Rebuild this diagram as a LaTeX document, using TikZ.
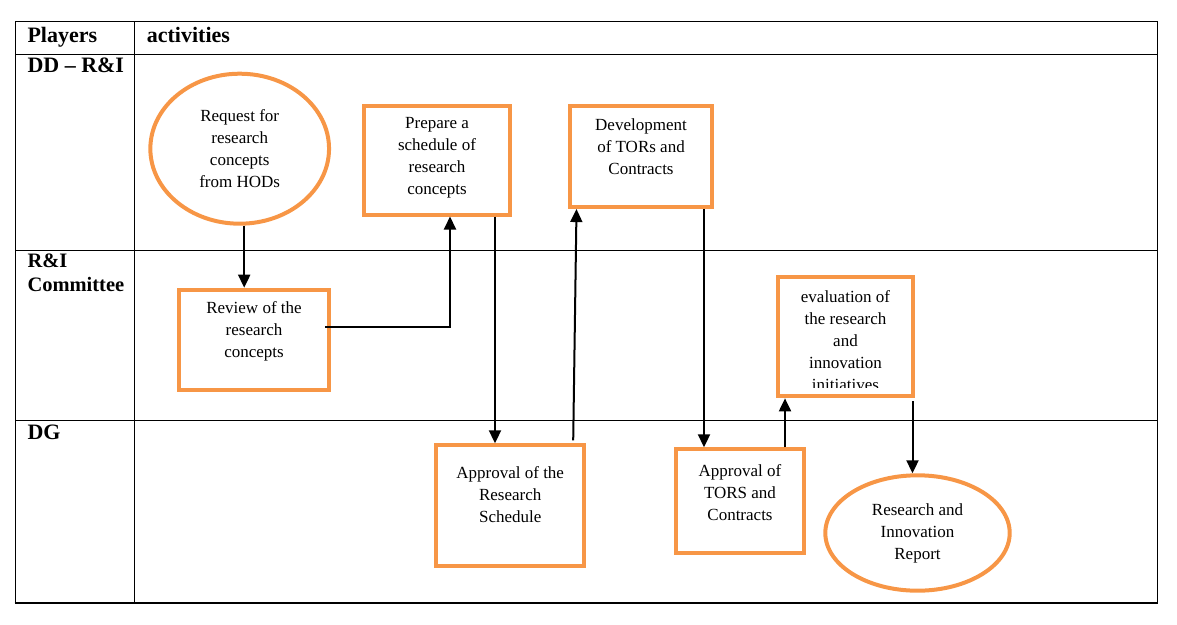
\documentclass[tikz,border=0pt]{standalone}
\usepackage{fontspec}
\setmainfont{Liberation Serif}
\usetikzlibrary{arrows.meta,shapes.geometric}
\definecolor{orng}{HTML}{F79646}
\newcommand{\bxt}[4]{\parbox[c][#2][t]{#1}{\vspace*{#3}\centering #4\par}}
\begin{document}
\begin{tikzpicture}[x=1pt,y=-1pt,
 box/.style={draw=orng,line width=4pt,inner sep=0pt,rectangle,font=\fontsize{17}{22}\selectfont},
 ell/.style={draw=orng,line width=4pt,inner sep=0pt,ellipse,align=center,font=\fontsize{17}{22}\selectfont},
 txt/.style={inner sep=0pt,align=center,font=\fontsize{17}{22}\selectfont},
 hdr/.style={inner sep=0pt,font=\bfseries\fontsize{22}{23.4}\selectfont},
 arr/.style={line width=2pt,-{Triangle[width=12pt,length=13pt]}},
 grid/.style={line width=1pt}]
\useasboundingbox (0,0) rectangle (1177,624);
% table
\draw[grid] (15.3,21.7) rectangle (1157.3,603.3);
\draw[grid] (15.3,54) -- (1157.3,54);
\draw[grid] (15.3,250.3) -- (1157.3,250.3);
\draw[grid] (15.3,420.5) -- (1157.3,420.5);
\draw[grid] (134.3,21.7) -- (134.3,603.3);
\draw[line width=2.2pt] (14.5,603.3) -- (1158,603.3);
% headers
\node[hdr,anchor=base west] (hP) at (27.3,42.3) {Players};
\node[hdr,anchor=base west] (hA) at (146.7,42.3) {activities};
\node[hdr,anchor=base west] (hD) at (27.3,72.7) {DD – R\&I};
\node[hdr,anchor=north west,align=left,font=\bfseries\fontsize{20.5}{23.4}\selectfont] (hR) at (27.3,254) {R\&I\\Committee};
\node[hdr,anchor=base west] (hG) at (27.3,439.3) {DG};
% nodes
\node[ell,minimum width=178.7pt,minimum height=150pt] (req) at (239.7,148.7) {Request for\\research\\concepts\\from HODs};
\node[box] (prep) at (437,160) {\bxt{146pt}{109pt}{12pt}{Prepare a\\schedule of\\research\\concepts}};
\node[box] (dev) at (641,156.7) {\bxt{142.6pt}{100.7pt}{12pt}{Development\\of TORs and\\Contracts}};
\node[box] (rev) at (254,339.7) {\bxt{150.6pt}{100pt}{12pt}{Review of the\\research\\concepts}};
\node[box,minimum width=135pt,minimum height=119.3pt] (eval) at (845.5,336.7) {};
\begin{scope}
\clip (778,277) rectangle (913,387.5);
\node[txt,anchor=north] (evaltxt) at (845.5,290.7) {evaluation of\\the research\\and\\innovation\\initiatives};
\end{scope}
\node[box] (appS) at (510.2,505.8) {\bxt{147.7pt}{121pt}{21.5pt}{Approval of the\\Research\\Schedule}};
\node[box] (appT) at (740,501.3) {\bxt{127.4pt}{104pt}{15pt}{Approval of\\TORS and\\Contracts}};
\node[ell,minimum width=184.4pt,minimum height=115.4pt] (rep) at (917.5,533) {Research and\\Innovation\\Report};
% connectors
\draw[arr] ([xshift=4.5pt]req.south) -- ([xshift=4.5pt]req.south |- rev.north);
\draw[arr] ([xshift=-6pt,yshift=13pt]rev.east) -| ([xshift=13pt]prep.south);
\draw[arr] ([xshift=58pt]prep.south) -- ([xshift=58pt]prep.south |- appS.north);
\draw[arr] ([xshift=63pt,yshift=3pt]appS.north) -- ([xshift=-64.5pt]dev.south);
\draw[arr] ([xshift=63pt]dev.south) -- ([xshift=63pt]dev.south |- appT.north);
\draw[arr] ([xshift=45pt]appT.north) -- ([xshift=45pt]appT.north |- eval.south);
\draw[arr] ([xshift=67pt,yshift=-3pt]eval.south) -- ([xshift=67pt]eval.south |- rep.north);
\end{tikzpicture}
\end{document}
